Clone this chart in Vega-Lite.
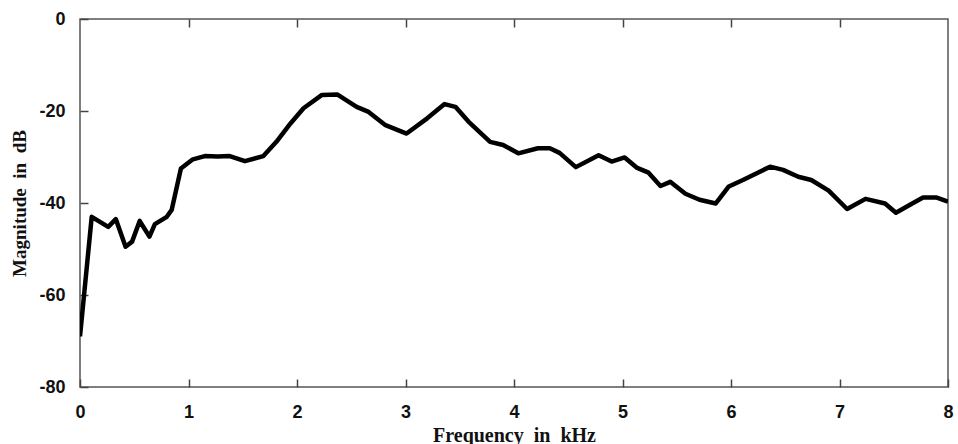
{
  "$schema": "https://vega.github.io/schema/vega-lite/v6.json",
  "width": 868,
  "height": 368,
  "autosize": "none",
  "padding": {"left": 80, "top": 19, "right": 10, "bottom": 57},
  "background": "white",
  "config": {
    "view": {"stroke": "#555", "strokeWidth": 1.5},
    "axis": {"grid": false, "domain": false, "tickColor": "#444", "tickWidth": 1.5,
      "labelFont": "Liberation Sans", "labelFontWeight": "bold", "labelFontSize": 18, "labelColor": "#111",
      "labelExpr": "replace(datum.label, '\u2212', '-')",
      "titleFont": "Liberation Serif", "titleFontWeight": "bold", "titleColor": "#111"}
  },
  "data": {"values": [
    {"f": 0.0, "m": -69},
    {"f": 0.108, "m": -43},
    {"f": 0.26, "m": -45.2},
    {"f": 0.33, "m": -43.5},
    {"f": 0.42, "m": -49.5},
    {"f": 0.48, "m": -48.4},
    {"f": 0.55, "m": -43.9},
    {"f": 0.64, "m": -47.3},
    {"f": 0.69, "m": -44.6},
    {"f": 0.80, "m": -43},
    {"f": 0.845, "m": -41.5},
    {"f": 0.93, "m": -32.5},
    {"f": 1.04, "m": -30.5},
    {"f": 1.15, "m": -29.8},
    {"f": 1.27, "m": -29.9},
    {"f": 1.38, "m": -29.8},
    {"f": 1.52, "m": -30.9},
    {"f": 1.69, "m": -29.8},
    {"f": 1.81, "m": -26.7},
    {"f": 1.94, "m": -22.7},
    {"f": 2.06, "m": -19.4},
    {"f": 2.23, "m": -16.5},
    {"f": 2.37, "m": -16.4},
    {"f": 2.55, "m": -19.1},
    {"f": 2.66, "m": -20.2},
    {"f": 2.81, "m": -23},
    {"f": 3.01, "m": -24.9},
    {"f": 3.20, "m": -21.6},
    {"f": 3.36, "m": -18.5},
    {"f": 3.46, "m": -19.1},
    {"f": 3.58, "m": -22.3},
    {"f": 3.78, "m": -26.7},
    {"f": 3.90, "m": -27.4},
    {"f": 4.04, "m": -29.2},
    {"f": 4.22, "m": -28.1},
    {"f": 4.33, "m": -28.1},
    {"f": 4.42, "m": -29.1},
    {"f": 4.57, "m": -32.2},
    {"f": 4.78, "m": -29.6},
    {"f": 4.90, "m": -31},
    {"f": 5.02, "m": -30.1},
    {"f": 5.13, "m": -32.3},
    {"f": 5.24, "m": -33.4},
    {"f": 5.35, "m": -36.3},
    {"f": 5.44, "m": -35.4},
    {"f": 5.58, "m": -38},
    {"f": 5.71, "m": -39.3},
    {"f": 5.86, "m": -40.1},
    {"f": 5.98, "m": -36.4},
    {"f": 6.11, "m": -35},
    {"f": 6.36, "m": -32.1},
    {"f": 6.48, "m": -32.8},
    {"f": 6.62, "m": -34.3},
    {"f": 6.74, "m": -35},
    {"f": 6.90, "m": -37.3},
    {"f": 7.07, "m": -41.3},
    {"f": 7.24, "m": -39.1},
    {"f": 7.42, "m": -40.1},
    {"f": 7.52, "m": -42.1},
    {"f": 7.65, "m": -40.4},
    {"f": 7.77, "m": -38.8},
    {"f": 7.89, "m": -38.8},
    {"f": 8.0, "m": -39.7}
  ]},
  "layer": [
    {
      "mark": {"type": "line", "color": "black", "strokeWidth": 4.5, "strokeJoin": "round", "clip": true},
      "encoding": {
        "x": {"field": "f", "type": "quantitative", "scale": {"domain": [0, 8], "nice": false},
          "axis": {"orient": "bottom", "values": [0,1,2,3,4,5,6,7,8], "tickSize": 8, "offset": -8, "labelPadding": 16, "title": "Frequency\u00a0\u00a0in\u00a0\u00a0kHz", "titleFontSize": 20, "titlePadding": 4, "labelFlush": false}},
        "y": {"field": "m", "type": "quantitative", "scale": {"domain": [-80, 0], "nice": false},
          "axis": {"values": [-80,-60,-40,-20,0], "tickSize": 8, "offset": -8, "labelPadding": 15, "title": "Magnitude\u00a0\u00a0in\u00a0\u00a0dB", "titleFontSize": 19, "titlePadding": 9, "labelFlush": false}}
      }
    },
    {
      "mark": {"type": "line", "opacity": 0},
      "encoding": {
        "x": {"field": "f", "type": "quantitative", "scale": {"domain": [0, 8], "nice": false},
          "axis": {"orient": "top", "values": [1,2,3,4,5,6,7], "tickSize": 8, "offset": -8, "labels": false, "title": null}}
      }
    }
  ],
  "resolve": {"axis": {"x": "independent"}}
}
